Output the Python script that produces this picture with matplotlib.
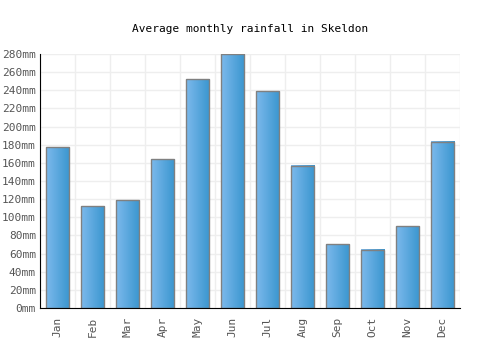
import matplotlib
matplotlib.use("Agg")
import matplotlib.pyplot as plt
import numpy as np
from matplotlib.colors import LinearSegmentedColormap

months = ["Jan", "Feb", "Mar", "Apr", "May", "Jun", "Jul", "Aug", "Sep", "Oct", "Nov", "Dec"]
rainfall = [177, 112, 119, 164, 252, 280, 239, 157, 70, 64, 90, 183]
yticks = list(range(0, 281, 20))

plt.rcParams['font.family'] = ['DejaVu Sans Mono']
fig = plt.figure(figsize=(5, 3.5), dpi=100)
ax = fig.add_axes([0.08, 0.12, 0.84, 0.726])

x = np.arange(len(months))
w = 0.66
cmap = LinearSegmentedColormap.from_list("g", ["#7cb9ec", "#3a96cf"])
grad = np.linspace(0, 1, 64).reshape(1, -1)
for xi, v in zip(x, rainfall):
    ax.imshow(grad, cmap=cmap, aspect='auto', extent=(xi - w/2, xi + w/2, 0, v), zorder=2)
ax.bar(x, rainfall, width=w, facecolor='none', edgecolor='#808080', linewidth=1, zorder=3)

ax.set_xlim(-0.5, len(months) - 0.5)
ax.set_ylim(0, 280)
ax.set_yticks(yticks)
ax.set_yticklabels([f"{t}mm" for t in yticks])
ax.set_xticks(x)
ax.set_xticklabels(months, rotation=90)
ax.set_xticks(np.arange(-0.5, len(months), 1), minor=True)
ax.grid(False)
ax.xaxis.grid(True, which='minor', color='#eeeeee', linewidth=1, zorder=0)
ax.yaxis.grid(True, which='major', color='#eeeeee', linewidth=1, zorder=0)
ax.set_axisbelow(True)
ax.tick_params(axis='both', which='both', length=0, labelsize=8, labelcolor='#555555')
ax.tick_params(axis='x', pad=6)
ax.tick_params(axis='y', pad=3)
for s in ['top', 'right']:
    ax.spines[s].set_visible(False)
ax.spines['left'].set_color('black')
ax.spines['bottom'].set_color('black')
ax.spines['left'].set_zorder(4)
ax.spines['bottom'].set_zorder(4)

fig.suptitle("Average monthly rainfall in Skeldon", y=0.93, fontsize=8, color='black')
fig.savefig("out.png", dpi=100)
